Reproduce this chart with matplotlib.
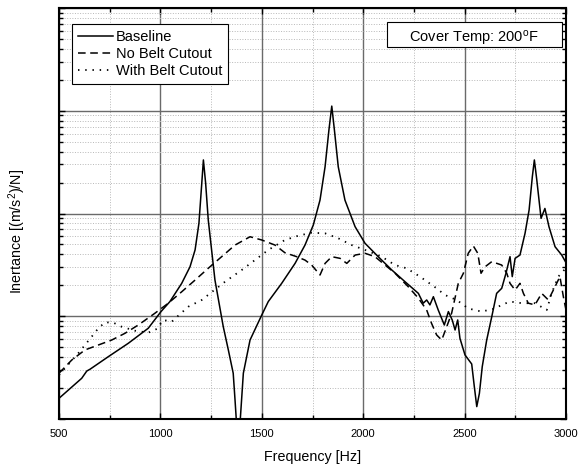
import matplotlib
matplotlib.use("Agg")
import matplotlib.pyplot as plt
from matplotlib.patches import Rectangle
from matplotlib.ticker import MultipleLocator, LogLocator, NullFormatter

plt.rcParams['font.family'] = ['Liberation Sans', 'DejaVu Sans']
plt.rcParams['mathtext.default'] = 'regular'

# values (frequency in Hz, inertance)
base_f = [500, 612, 637, 653, 743, 842, 940, 1003, 1047, 1105, 1146, 1171, 1190, 1204, 1212,
          1223, 1236, 1269, 1310, 1335, 1359, 1368, 1376, 1392, 1409, 1442, 1500, 1532, 1598,
          1664, 1713, 1754, 1787, 1812, 1831, 1845, 1858, 1877, 1910, 1960, 2009, 2074, 2141,
          2206, 2272, 2296, 2313, 2329, 2346, 2370, 2400, 2420, 2439, 2453, 2466, 2477, 2502,
          2535, 2548, 2560, 2573, 2587, 2609, 2634, 2658, 2683, 2704, 2724, 2735, 2749, 2773,
          2798, 2818, 2834, 2844, 2856, 2877, 2896, 2916, 2946, 2979, 3000]
base_v = [0.00159, 0.00249, 0.00293, 0.00305, 0.00404, 0.00546, 0.00764, 0.0111, 0.0139,
          0.0209, 0.0303, 0.0442, 0.0803, 0.197, 0.332, 0.198, 0.0865, 0.0225, 0.00791,
          0.00470, 0.00279, 0.00153, 0.00087, 0.00087, 0.00279, 0.00587, 0.0103, 0.0139,
          0.0209, 0.0327, 0.0493, 0.0773, 0.135, 0.285, 0.650, 1.11, 0.650, 0.285, 0.135,
          0.0744, 0.0513, 0.0380, 0.0282, 0.0217, 0.0167, 0.0134, 0.0144, 0.0129, 0.0155,
          0.0115, 0.00822, 0.0111, 0.00920, 0.00735, 0.00920, 0.00610, 0.00420, 0.00343,
          0.00206, 0.00132, 0.00178, 0.00323, 0.00587, 0.00991, 0.0167, 0.0187, 0.0262,
          0.0380, 0.0243, 0.0366, 0.0394, 0.0641, 0.108, 0.228, 0.332, 0.212, 0.0897,
          0.112, 0.0744, 0.0475, 0.0394, 0.0332]

nobelt_f = [500, 563, 628, 694, 760, 825, 891, 973, 1039, 1105, 1171, 1236, 1302, 1368, 1442,
            1500, 1565, 1614, 1672, 1713, 1746, 1787, 1812, 1845, 1886, 1919, 1960, 2009, 2058,
            2157, 2222, 2272, 2313, 2337, 2362, 2387, 2412, 2436, 2469, 2494, 2518, 2543, 2565,
            2581, 2601, 2634, 2683, 2708, 2724, 2749, 2773, 2790, 2814, 2847, 2880, 2913, 2946,
            2970, 2987, 3000]
nobelt_v = [0.00279, 0.00375, 0.00470, 0.00525, 0.00587, 0.00682, 0.00822, 0.0107, 0.0134,
            0.0173, 0.0225, 0.0293, 0.0380, 0.0493, 0.0594, 0.0552, 0.0493, 0.0415, 0.0380,
            0.0352, 0.0315, 0.0252, 0.0327, 0.0380, 0.0366, 0.0327, 0.0394, 0.0410, 0.0380,
            0.0262, 0.0194, 0.0150, 0.0115, 0.00853, 0.00658, 0.00587, 0.00791, 0.0107, 0.0209,
            0.0262, 0.0410, 0.0483, 0.0410, 0.0262, 0.0303, 0.0340, 0.0315, 0.0262, 0.0209,
            0.0180, 0.0209, 0.0167, 0.0134, 0.0129, 0.0167, 0.0144, 0.0194, 0.0243, 0.0155,
            0.0115]

withbelt_f = [500, 530, 595, 661, 694, 727, 768, 809, 875, 940, 982, 1014, 1056, 1097, 1138,
              1204, 1245, 1319, 1401, 1466, 1532, 1614, 1680, 1746, 1812, 1877, 1943, 2009,
              2091, 2157, 2214, 2280, 2362, 2403, 2461, 2518, 2584, 2650, 2683, 2724, 2782,
              2847, 2905, 2929, 2962, 3000]
withbelt_v = [0.00268, 0.00313, 0.00436, 0.00632, 0.00764, 0.00873, 0.00866, 0.00791, 0.00723,
              0.00692, 0.00752, 0.00920, 0.00885, 0.0105, 0.0124, 0.0144, 0.0167, 0.0217,
              0.0282, 0.0352, 0.0442, 0.0552, 0.0608, 0.0650, 0.0641, 0.0574, 0.0493, 0.0442,
              0.0380, 0.0315, 0.0293, 0.0243, 0.0187, 0.0161, 0.0144, 0.0119, 0.0111, 0.0119,
              0.0129, 0.0139, 0.0134, 0.0134, 0.0115, 0.0167, 0.0243, 0.0295]

fig = plt.figure(figsize=(5.87, 4.67), dpi=100)
ax = fig.add_axes([59/587, 48/467, 507/587, 411/467])

ax.plot(base_f, base_v, color='k', lw=1.1, ls='-', label='Baseline')
ax.plot(nobelt_f, nobelt_v, color='k', lw=1.1, ls=(0, (5, 3)), label='No Belt Cutout')
ax.plot(withbelt_f, withbelt_v, color='k', lw=1.3, ls=(0, (0.8, 3.2)), label='With Belt Cutout')

ax.set_yscale('log')
ax.set_xlim(500, 3000)
ax.set_ylim(1e-3, 1e1)
ax.xaxis.set_major_locator(MultipleLocator(500))
ax.xaxis.set_minor_locator(MultipleLocator(250))
ax.yaxis.set_major_locator(LogLocator(base=10, numticks=10))
ax.yaxis.set_minor_locator(LogLocator(base=10, subs=range(2, 10), numticks=20))
ax.yaxis.set_major_formatter(NullFormatter())
ax.yaxis.set_minor_formatter(NullFormatter())

ax.grid(which='major', color='#6a6a6a', lw=1.0, ls='-')
ax.grid(which='minor', color='#b8b8b8', lw=0.7, ls=':')
ax.set_axisbelow(True)

ax.tick_params(which='both', direction='in', top=True, right=True, width=1, labelsize=8)
ax.tick_params(which='major', length=4, pad=7)
ax.tick_params(which='minor', length=3)
for s in ax.spines.values():
    s.set_linewidth(1.5)

ax.set_xlabel('Frequency [Hz]', fontsize=10.3)
ax.xaxis.set_label_coords(0.5, -0.076)
ax.set_ylabel('Inertance [(m/s$^2$)/N]', fontsize=10.3)
ax.yaxis.set_label_coords(-0.062, 0.457)

leg = ax.legend(loc='upper left', bbox_to_anchor=(0.0256, 0.961), borderaxespad=0,
                fancybox=False, framealpha=1, edgecolor='k', fontsize=10.5,
                handlelength=2.4, handletextpad=0.2, labelspacing=0.2, borderpad=0.4)
leg.get_frame().set_linewidth(0.8)

ax.add_patch(Rectangle((0.647, 0.905), 0.345, 0.061, transform=ax.transAxes,
                       fc='white', ec='k', lw=0.8, zorder=5))
ax.text(0.819, 0.926, 'Cover Temp: 200$^o$F', transform=ax.transAxes, fontsize=10.5,
        ha='center', va='center', zorder=6)

fig.savefig('out.png', dpi=100)
